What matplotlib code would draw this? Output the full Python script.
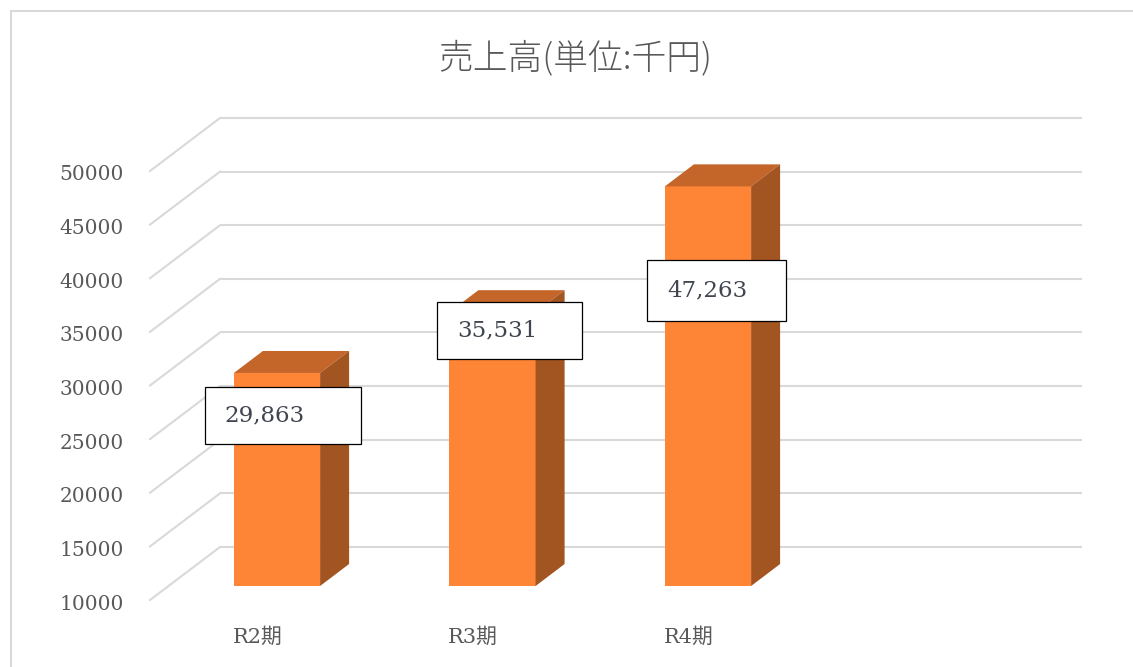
import matplotlib
matplotlib.use("Agg")
import matplotlib.pyplot as plt
from matplotlib.patches import Rectangle, Polygon
from matplotlib.lines import Line2D

# ---- data ----
categories = ["R2期", "R3期", "R4期"]
sales = [29863, 35531, 47263]
data_labels = ["29,863", "35,531", "47,263"]
yticks = [10000, 15000, 20000, 25000, 30000, 35000, 40000, 45000, 50000]
title = "売上高(単位:千円)"

# ---- layout ----
W, H, DPI = 1133, 667, 100
fig = plt.figure(figsize=(W / DPI, H / DPI), dpi=DPI)
ax = fig.add_axes([0, 0, 1, 1])
ax.axis("off")

CAT_PX = 215.5          # pixels per category slot
VAL_PX = 53.625 / 5000  # pixels per value unit
X0_PX, Y0_PX = 277, 586  # pixel of category 0 / value 10000 on bar front plane
YMIN = 10000
ax.set_xlim(-X0_PX / CAT_PX, (W - X0_PX) / CAT_PX)
ax.set_ylim(YMIN - (H - Y0_PX) / VAL_PX, YMIN + Y0_PX / VAL_PX)

PX = 1 / CAT_PX   # data-x per pixel
PY = 1 / VAL_PX   # data-y per pixel

bar_w = 0.4
bar_depth = (29 * PX, 22 * PY)
back_off = (50.75 * PX, 39 * PY)
front_off = (-19.25 * PX, -14 * PY)
n_slots = 4
x_left, x_right = -0.5, n_slots - 0.5

grid_c = "#D9D9D9"
text_c = "#595959"
front_c = "#FE8535"
top_c = "#C4662A"
side_c = "#A25421"

serif = ["DejaVu Serif", "Noto Sans CJK JP"]

# gridlines: back wall + left diagonal
for v in yticks:
    ax.add_line(Line2D([x_left + back_off[0], x_right + back_off[0]],
                       [v + back_off[1], v + back_off[1]],
                       color=grid_c, lw=1.5, zorder=1, solid_capstyle="butt"))
    ax.add_line(Line2D([x_left + front_off[0], x_left + back_off[0]],
                       [v + front_off[1], v + back_off[1]],
                       color=grid_c, lw=1.5, zorder=1))
    ax.text(x_left + front_off[0] - 26 * PX, v + front_off[1] - 4 * PY, f"{v}",
            ha="right", va="center", fontsize=14.5, color=text_c,
            family=serif, zorder=5)

# bars
for i, v in enumerate(sales):
    xl, xr = i - bar_w / 2, i + bar_w / 2
    dx, dy = bar_depth
    ax.add_patch(Rectangle((xl, YMIN), bar_w, v - YMIN, facecolor=front_c,
                           edgecolor="none", zorder=3))
    ax.add_patch(Polygon([(xl, v), (xr, v), (xr + dx, v + dy), (xl + dx, v + dy)],
                         closed=True, facecolor=top_c, edgecolor="none", zorder=3))
    ax.add_patch(Polygon([(xr, YMIN), (xr + dx, YMIN + dy), (xr + dx, v + dy), (xr, v)],
                         closed=True, facecolor=side_c, edgecolor="none", zorder=3))
    ax.text(i + front_off[0], YMIN + front_off[1] - 37 * PY, categories[i],
            ha="center", va="center", fontsize=15, color=text_c,
            family=serif, zorder=5)

# data label boxes (pixel offsets from bar top-left front corner)
lab_dx = [-29, -12, -18]
lab_top = [14, -10, 74]
lab_w = [156, 145, 139]
lab_h = [57, 57, 61]
for i, v in enumerate(sales):
    xl = i - bar_w / 2
    left = xl + lab_dx[i] * PX
    top = v - lab_top[i] * PY
    bottom = top - lab_h[i] * PY
    ax.add_patch(Rectangle((left, bottom), lab_w[i] * PX, top - bottom,
                           facecolor="white", edgecolor="black", lw=0.9, zorder=6))
    ax.text(left + 20 * PX, (top + bottom) / 2, data_labels[i], ha="left",
            va="center", fontsize=16.5, color="#404550", family=serif, zorder=7)

# chart frame (top & left visible)
fig.add_artist(Line2D([11 / W, 1], [1 - 11 / H, 1 - 11 / H], color=grid_c, lw=1.5))
fig.add_artist(Line2D([11 / W, 11 / W], [0, 1 - 11 / H], color=grid_c, lw=1.5))

fig.text(575 / W, 1 - 58 / H, title, ha="center", va="center", fontsize=25,
         color=text_c, family=["Noto Sans CJK JP", "DejaVu Sans"], weight="light")

fig.savefig("out.png", dpi=DPI)
